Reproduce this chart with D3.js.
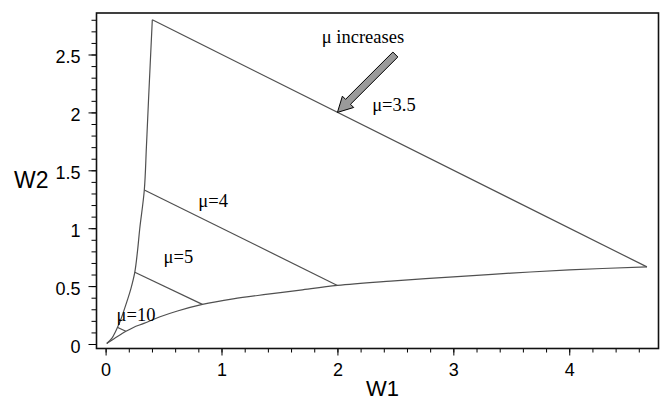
<!DOCTYPE html>
<html>
<head>
<meta charset="utf-8">
<script src="https://cdn.jsdelivr.net/npm/d3@7"></script>
<style>
  body { margin: 0; background: #fff; }
  svg { display: block; }
</style>
</head>
<body>
<svg id="chart" width="664" height="401"></svg>
<script>
// left boundary curve
const leftW1 = [0.01, 0.055, 0.082, 0.105, 0.127, 0.155, 0.185, 0.219, 0.252, 0.275, 0.295, 0.334, 0.352, 0.370, 0.403];
const leftW2 = [0.004, 0.05, 0.10, 0.15, 0.20, 0.28, 0.37, 0.48, 0.62, 0.80, 1.00, 1.33, 1.70, 2.10, 2.80];

// lower boundary curve
const lowW1 = [0.01, 0.04, 0.08, 0.13, 0.176, 0.24, 0.33, 0.47, 0.62, 0.835, 1.1, 1.4, 1.68, 2.0, 2.46, 3.0, 3.5, 4.0, 4.67];
const lowW2 = [0.004, 0.024, 0.05, 0.082, 0.11, 0.143, 0.178, 0.235, 0.285, 0.342, 0.39, 0.43, 0.466, 0.506, 0.543, 0.58, 0.612, 0.64, 0.666];

// mu lines: start on left curve, end on lower curve
const muNames = ["μ=3.5", "μ=4", "μ=5", "μ=10"];
const muStartW1 = [0.403, 0.334, 0.252, 0.10];
const muStartW2 = [2.80, 1.33, 0.62, 0.145];
const muEndW1 = [4.67, 2.0, 0.835, 0.175];
const muEndW2 = [0.666, 0.506, 0.342, 0.11];
// label anchors (left end of text, baseline) in data units
const muLabelW1 = [2.30, 0.80, 0.50, 0.095];
const muLabelW2 = [2.01, 1.185, 0.70, 0.198];

const arrowFrom = [2.5, 2.5];
const arrowTo = [2.0, 2.0];
const arrowText = "μ increases";
const arrowTextAt = [1.865, 2.603];

const xMajor = [0, 1, 2, 3, 4];
const yMajor = [0, 0.5, 1, 1.5, 2, 2.5];
const xMinor = d3.range(0, 4.61, 0.2);
const yMinor = d3.range(0, 2.81, 0.1);

const plotLeft = 96.5, plotRight = 658.5, plotTop = 13, plotBottom = 348.5;

const svg = d3.select("#chart");

const x = d3.scaleLinear().domain([-0.0785, 4.77]).range([plotLeft, plotRight]);
const y = d3.scaleLinear().domain([-0.0388, 2.8585]).range([plotBottom, plotTop]);

const sans = "'Liberation Sans', Arial, sans-serif";
const serif = "'Liberation Serif', 'Times New Roman', serif";

// minor ticks
svg.append("g")
  .attr("transform", "translate(0," + plotBottom + ")")
  .call(d3.axisBottom(x).tickValues(xMinor).tickSize(4).tickFormat(""))
  .call(g => g.select(".domain").remove());
svg.append("g")
  .attr("transform", "translate(" + plotLeft + ",0)")
  .call(d3.axisLeft(y).tickValues(yMinor).tickSize(5).tickFormat(""))
  .call(g => g.select(".domain").remove());

// major ticks + labels
const xAxis = svg.append("g")
  .attr("transform", "translate(0," + plotBottom + ")")
  .call(d3.axisBottom(x).tickValues(xMajor).tickSize(7).tickPadding(7.5).tickFormat(d3.format("d")));
xAxis.select(".domain").remove();
xAxis.selectAll("text").style("font-family", sans).style("font-size", "18px").attr("fill", "#000");

const yAxis = svg.append("g")
  .attr("transform", "translate(" + plotLeft + ",0)")
  .call(d3.axisLeft(y).tickValues(yMajor).tickSize(8).tickPadding(8).tickFormat(d => d));
yAxis.select(".domain").remove();
yAxis.selectAll("text").attr("dy", "0.47em").style("font-family", sans).style("font-size", "18px").attr("fill", "#000");

svg.selectAll(".tick line").attr("stroke", "#000");

// frame
svg.append("rect")
  .attr("x", plotLeft).attr("y", plotTop)
  .attr("width", plotRight - plotLeft).attr("height", plotBottom - plotTop)
  .attr("fill", "none").attr("stroke", "#111").attr("stroke-width", 1.6);

// axis titles
svg.append("text").attr("x", 382.5).attr("y", 396)
  .attr("text-anchor", "middle")
  .style("font-family", sans).style("font-size", "22px")
  .text("W1");
svg.append("text").attr("x", 14).attr("y", 188)
  .style("font-family", sans).style("font-size", "23px")
  .text("W2");

// boundary curves
const line = d3.line().x(d => x(d[0])).y(d => y(d[1])).curve(d3.curveCatmullRom.alpha(0.5));
const curveColor = "#505050";

svg.append("path")
  .datum(leftW1.map((v, i) => [v, leftW2[i]]))
  .attr("d", line)
  .attr("fill", "none").attr("stroke", curveColor).attr("stroke-width", 1.2);

svg.append("path")
  .datum(lowW1.map((v, i) => [v, lowW2[i]]))
  .attr("d", line)
  .attr("fill", "none").attr("stroke", curveColor).attr("stroke-width", 1.2);

// mu lines
svg.append("g").selectAll("line")
  .data(muNames)
  .enter()
  .append("line")
  .attr("x1", (d, i) => x(muStartW1[i]))
  .attr("y1", (d, i) => y(muStartW2[i]))
  .attr("x2", (d, i) => x(muEndW1[i]))
  .attr("y2", (d, i) => y(muEndW2[i]))
  .attr("stroke", curveColor).attr("stroke-width", 1.2);

svg.append("g").selectAll("text")
  .data(muNames)
  .enter()
  .append("text")
  .attr("x", (d, i) => x(muLabelW1[i]))
  .attr("y", (d, i) => y(muLabelW2[i]))
  .style("font-family", serif).style("font-size", "18.5px")
  .text(d => d);

// arrow
const ax0 = x(arrowFrom[0]), ay0 = y(arrowFrom[1]);
const ax1 = x(arrowTo[0]), ay1 = y(arrowTo[1]);
const len = Math.hypot(ax1 - ax0, ay1 - ay0);
const ux = (ax1 - ax0) / len, uy = (ay1 - ay0) / len;
const px = -uy, py = ux;
const headLen = 15, headW = 8, shaftW = 3.5;
const bx = ax1 - ux * headLen, by = ay1 - uy * headLen;
const pts = [
  [ax0 + px * shaftW, ay0 + py * shaftW],
  [bx + px * shaftW, by + py * shaftW],
  [bx + px * headW, by + py * headW],
  [ax1, ay1],
  [bx - px * headW, by - py * headW],
  [bx - px * shaftW, by - py * shaftW],
  [ax0 - px * shaftW, ay0 - py * shaftW]
];
svg.append("polygon")
  .attr("points", pts.map(p => p.join(",")).join(" "))
  .attr("fill", "#9a9a9a").attr("stroke", "#000").attr("stroke-width", 1);

svg.append("text")
  .attr("x", x(arrowTextAt[0])).attr("y", y(arrowTextAt[1]))
  .style("font-family", serif).style("font-size", "18.5px")
  .text(arrowText);
</script>
</body>
</html>
